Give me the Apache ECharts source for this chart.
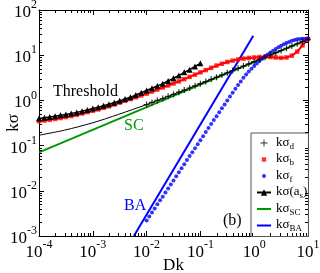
<!DOCTYPE html>
<html><head><meta charset="utf-8">
<script src="https://cdn.jsdelivr.net/npm/echarts@6/dist/echarts.min.js"></script>
<style>html,body{margin:0;padding:0;background:#fff}#c{width:320px;height:273px}</style>
</head><body><div id="c"></div>
<script>
// ---- data ----
const dkGrid10 = [
  1e-4,1.259e-4,1.585e-4,1.995e-4,2.512e-4,3.162e-4,3.981e-4,5.012e-4,6.31e-4,7.943e-4,
  1e-3,1.259e-3,1.585e-3,1.995e-3,2.512e-3,3.162e-3,3.981e-3,5.012e-3,6.31e-3,7.943e-3,
  1e-2,1.259e-2,1.585e-2,1.995e-2,2.512e-2,3.162e-2,3.981e-2,5.012e-2,6.31e-2,7.943e-2,
  0.1,0.1259,0.1585,0.1995,0.2512,0.3162,0.3981,0.5012,0.631,0.7943,
  1,1.259,1.585,1.995,2.512,3.162,3.981,5.012,6.31,7.943,
  10
];
const dkGrid20 = [
  0.01,0.01122,0.01259,0.01413,0.01585,0.01778,0.01995,0.02239,0.02512,0.02818,
  0.03162,0.03548,0.03981,0.04467,0.05012,0.05623,0.0631,0.07079,0.07943,0.08913,
  0.1,0.1122,0.1259,0.1413,0.1585,0.1778,0.1995,0.2239,0.2512,0.2818,
  0.3162,0.3548,0.3981,0.4467,0.5012,0.5623,0.631,0.7079,0.7943,0.8913,
  1,1.122,1.259,1.413,1.585,1.778,1.995,2.239,2.512,2.818,
  3.162,3.548,3.981,4.467,5.012,5.623,6.31,7.079,7.943,8.913,
  10
];
// k sigma_b (red squares), on dkGrid10
const kSigmaB = [
  0.347,0.359,0.372,0.389,0.407,0.427,0.452,0.479,0.513,0.550,
  0.589,0.631,0.684,0.741,0.813,0.891,0.977,1.07,1.17,1.29,
  1.41,1.57,1.74,1.93,2.14,2.37,2.63,2.95,3.31,3.72,
  4.17,4.68,5.25,5.89,6.46,7.08,7.59,8.04,8.41,8.71,
  8.91,9.12,9.23,9.12,8.91,8.71,8.91,9.77,12.0,16.6,
  22.9
];
// k sigma(a_s) (black triangles), dkGrid10 from 1e-4 to 0.1
const kSigmaAs = [
  0.398,0.412,0.427,0.447,0.468,0.490,0.513,0.543,0.575,0.617,
  0.661,0.708,0.759,0.822,0.891,0.977,1.07,1.17,1.32,1.48,
  1.66,1.86,2.09,2.34,2.69,3.09,3.55,4.17,4.79,5.62,
  6.61
];
// k sigma_d (black plus), dkGrid10 from 0.01 to 10
const kSigmaD = [
  0.81,0.90,1.00,1.10,1.23,1.36,1.52,1.69,1.88,2.10,
  2.35,2.62,2.93,3.27,3.66,4.09,4.58,5.13,5.74,6.43,
  7.20,8.07,9.04,10.1,11.35,12.7,14.25,16.0,17.9,20.1,
  22.55
];
// k sigma_f (blue dots), on dkGrid20
const kSigmaF = [
  0.00219,0.00269,0.00331,0.00407,0.00501,0.00617,0.00741,0.00912,0.0112,0.0138,
  0.0170,0.0209,0.0257,0.0316,0.0389,0.0479,0.0589,0.0716,0.0871,0.107,
  0.132,0.162,0.200,0.245,0.302,0.367,0.447,0.550,0.668,0.813,
  1.00,1.22,1.48,1.80,2.19,2.63,3.16,3.72,4.37,5.01,
  5.75,6.53,7.41,8.32,9.33,10.4,11.5,12.6,13.8,15.0,
  16.2,17.4,18.6,19.7,20.9,21.6,22.4,22.9,23.2,23.2,
  22.9
];
// thin black threshold curve
const thinDk = [1e-4,3e-4,1e-3,3e-3,1e-2,3e-2,0.1,0.3,1,3,10];
const thinVal = [0.17,0.22,0.32,0.49,0.81,1.33,2.35,4.0,7.2,12.4,22.5];
// SC and BA power-law lines (end points)
const scDk = [1e-4, 10];
const scVal = [0.071, 22.45];
const baDk = [0.0058, 0.962];
const baVal = [0.001, 27.0];
// axis ranges and tick exponents
const xRange = [1e-4, 10];
const yRange = [1e-3, 100];
const xTickExps = [-4,-3,-2,-1,0,1];
const yTickExps = [-3,-2,-1,0,1,2];

const serif = 'Liberation Serif';
const pair = (xs, ys) => ys.map((v, i) => [xs[i], v]);

// minor ticks (2..9 per decade)
function minorTicks(exps) {
  const out = [];
  for (let k = 0; k < exps.length - 1; k++) {
    for (let m = 2; m <= 9; m++) out.push(m * Math.pow(10, exps[k]));
  }
  return out;
}
const xMinor = minorTicks(xTickExps);
const yMinor = minorTicks(yTickExps);

const powLabel = v => '{b|10}{s|' + Math.round(Math.log10(v)) + '}';
const tickRich = {
  b: {fontFamily: serif, fontSize: 17, color: '#000', padding: [5, 0, 0, 0], verticalAlign: 'bottom'},
  s: {fontFamily: serif, fontSize: 12, color: '#000', verticalAlign: 'top'}
};

const legendLabels = {
  'kσd': '{m|kσ}{s|d}',
  'kσb': '{m|kσ}{s|b}',
  'kσf': '{m|kσ}{s|f}',
  'kσ(as)': '{m|kσ(a}{s|s}{m|)}',
  'kσSC': '{m|kσ}{s|SC}',
  'kσBA': '{m|kσ}{s|BA}'
};

const plusPath = 'path://M4,0H6V4H10V6H6V10H4V6H0V4H4Z';
// legend icons in a 14x8 box
const iconPlus = 'path://M0,0M14,8M6.5,0.5h1v3h3v1h-3v3h-1v-3h-3v-1h3z';
const iconSquare = 'path://M0,0M14,8M4.8,1.8h4.4v4.4h-4.4z';
const iconDot = 'path://M0,0M14,8M9,4A2,2,0,1,1,5,4A2,2,0,1,1,9,4z';
const iconLine = 'path://M0,0M14,8M0,3h14v2h-14z';

function baseX(pos, showLabel) {
  return {
    type: 'log', logBase: 10, min: xRange[0], max: xRange[1], position: pos,
    axisLine: {show: true, onZero: false, lineStyle: {color: '#000', width: 1}},
    axisTick: {show: true, inside: true, length: 5, lineStyle: {color: '#000'}},
    axisLabel: {show: showLabel, formatter: powLabel, rich: tickRich, margin: 3},
    splitLine: {show: false}, minorTick: {show: false}, minorSplitLine: {show: false}
  };
}
function baseY(pos, showLabel) {
  return {
    type: 'log', logBase: 10, min: yRange[0], max: yRange[1], position: pos,
    axisLine: {show: true, onZero: false, lineStyle: {color: '#000', width: 1}},
    axisTick: {show: true, inside: true, length: 5, lineStyle: {color: '#000'}},
    axisLabel: {show: showLabel, formatter: powLabel, rich: tickRich, margin: 2},
    splitLine: {show: false}, minorTick: {show: false}, minorSplitLine: {show: false}
  };
}

const xBottom = Object.assign(baseX('bottom', true), {
  name: 'Dk', nameLocation: 'middle', nameGap: 21, nameMoveOverlap: false,
  nameTextStyle: {fontFamily: serif, fontSize: 17, color: '#000'}
});
const yLeft = Object.assign(baseY('left', true), {
  name: 'kσ', nameLocation: 'middle', nameGap: 17, nameMoveOverlap: false,
  nameTextStyle: {fontFamily: serif, fontSize: 17, color: '#000'}
});

const chart = echarts.init(document.getElementById('c'), null, {renderer: 'canvas'});
chart.setOption({
  animation: false,
  backgroundColor: '#fff',
  grid: {left: 39, right: 12, top: 10, bottom: 37, containLabel: false, outerBoundsMode: 'none'},
  xAxis: [xBottom, baseX('top', false)],
  yAxis: [yLeft, baseY('right', false)],
  legend: {
    data: [
      {name: 'kσd', icon: iconPlus},
      {name: 'kσb', icon: iconSquare},
      {name: 'kσf', icon: iconDot},
      {name: 'kσ(as)'},
      {name: 'kσSC', icon: iconLine},
      {name: 'kσBA', icon: iconLine}
    ],
    orient: 'vertical', left: 251, top: 133,
    padding: [3, 1, 3, 5], itemGap: 1.5, itemWidth: 14, itemHeight: 8,
    borderColor: '#555', borderWidth: 1, backgroundColor: '#fff',
    formatter: n => legendLabels[n],
    textStyle: {
      rich: {
        m: {fontFamily: serif, fontSize: 13, color: '#000', lineHeight: 14, verticalAlign: 'top'},
        s: {fontFamily: serif, fontSize: 9, color: '#000', lineHeight: 10, padding: [6, 0, 0, 0], verticalAlign: 'top'}
      }
    }
  },
  graphic: [
    {type: 'text', x: 53, y: 92, style: {text: 'Threshold', font: '16px "Liberation Serif"', fill: '#000', align: 'left', verticalAlign: 'middle'}},
    {type: 'text', x: 124, y: 126, style: {text: 'SC', font: '16px "Liberation Serif"', fill: '#009900', align: 'left', verticalAlign: 'middle'}},
    {type: 'text', x: 124, y: 206, style: {text: 'BA', font: '16px "Liberation Serif"', fill: '#0000ff', align: 'left', verticalAlign: 'middle'}},
    {type: 'text', x: 223, y: 221, style: {text: '(b)', font: '16px "Liberation Serif"', fill: '#000', align: 'left', verticalAlign: 'middle'}}
  ],
  series: [
    {name: 'kσSC', type: 'line', data: pair(scDk, scVal), symbol: 'none',
     lineStyle: {color: '#009900', width: 2}, itemStyle: {color: '#009900'}, z: 2},
    {name: 'thin', type: 'line', data: pair(thinDk, thinVal), symbol: 'none', smooth: 0.3,
     lineStyle: {color: '#000', width: 1}, itemStyle: {color: '#000'}, z: 3},
    {name: 'kσBA', type: 'line', data: pair(baDk, baVal), symbol: 'none',
     lineStyle: {color: '#0000ff', width: 2}, itemStyle: {color: '#0000ff'}, z: 3},
    {name: 'redline', type: 'line', data: pair(dkGrid10, kSigmaB), symbol: 'none',
     lineStyle: {color: '#ff0000', width: 2}, itemStyle: {color: '#ff0000'}, z: 3},
    {name: 'kσb', type: 'scatter', data: pair(dkGrid10, kSigmaB), symbol: 'rect', symbolSize: 4.5,
     itemStyle: {color: '#ff0000'}, z: 4},
    {name: 'kσ(as)', type: 'line', data: pair(dkGrid10.slice(0, 31), kSigmaAs), symbol: 'triangle', symbolSize: 6,
     showAllSymbol: true, lineStyle: {color: '#000', width: 1.5}, itemStyle: {color: '#000'}, z: 5},
    {name: 'kσf', type: 'scatter', data: pair(dkGrid20, kSigmaF), symbol: 'circle', symbolSize: 4,
     itemStyle: {color: '#0000ff'}, z: 5},
    {name: 'kσd', type: 'scatter', data: pair(dkGrid10.slice(20), kSigmaD), symbol: plusPath, symbolSize: 6,
     itemStyle: {color: '#000'}, z: 6},
    {name: 'minorTicks', type: 'custom', silent: true, clip: false, z: 10,
     data: [[xRange[0], yRange[0]]],
     renderItem: function (params, api) {
       const ch = [];
       const st = {stroke: '#000', lineWidth: 1};
       xMinor.forEach(v => {
         const b = api.coord([v, yRange[0]]);
         const t = api.coord([v, yRange[1]]);
         const x = Math.round(b[0]) + 0.5;
         ch.push({type: 'line', shape: {x1: x, y1: b[1], x2: x, y2: b[1] - 3}, style: st});
         ch.push({type: 'line', shape: {x1: x, y1: t[1], x2: x, y2: t[1] + 3}, style: st});
       });
       yMinor.forEach(v => {
         const l = api.coord([xRange[0], v]);
         const r = api.coord([xRange[1], v]);
         const y = Math.round(l[1]) + 0.5;
         ch.push({type: 'line', shape: {x1: l[0], y1: y, x2: l[0] + 3, y2: y}, style: st});
         ch.push({type: 'line', shape: {x1: r[0], y1: y, x2: r[0] - 3, y2: y}, style: st});
       });
       return {type: 'group', children: ch};
     }}
  ]
});
</script>
</body></html>
